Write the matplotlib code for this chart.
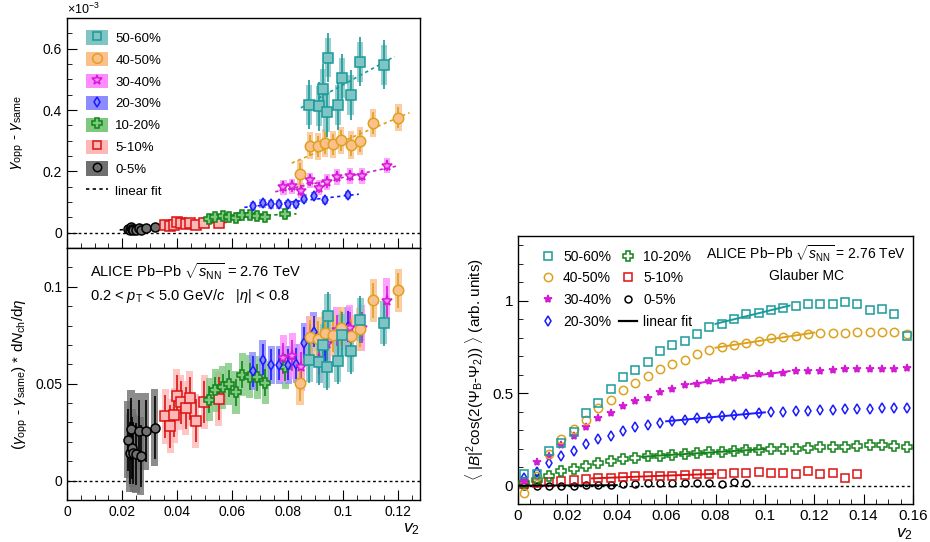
import numpy as np
import matplotlib
matplotlib.use("Agg")
import matplotlib.pyplot as plt
from matplotlib.patches import Rectangle, Patch
from matplotlib.lines import Line2D
from matplotlib.legend_handler import HandlerTuple
from matplotlib.ticker import MultipleLocator

plt.rcParams['font.family'] = ['Liberation Sans', 'DejaVu Sans']
plt.rcParams['mathtext.fontset'] = 'custom'
plt.rcParams['mathtext.rm'] = 'Liberation Sans'
plt.rcParams['mathtext.it'] = 'Liberation Sans:italic'
plt.rcParams['mathtext.bf'] = 'Liberation Sans:bold'

# ---- data ---------------------------------------------------------------
cent = ["0-5%", "5-10%", "10-20%", "20-30%", "30-40%", "40-50%", "50-60%"]

# left panels: v2 of each point, per centrality
v2_c0 = [0.0221, 0.0228, 0.0232, 0.0237, 0.0241, 0.0250, 0.0260, 0.0268, 0.0285, 0.0318]
v2_c1 = [0.0356, 0.0374, 0.0389, 0.0398, 0.0413, 0.0430, 0.0445, 0.0466, 0.0498, 0.0550]
v2_c2 = [0.0516, 0.0538, 0.0565, 0.0587, 0.0613, 0.0635, 0.0662, 0.0690, 0.0719, 0.0792]
v2_c3 = [0.0673, 0.0709, 0.0741, 0.0770, 0.0802, 0.0832, 0.0861, 0.0894, 0.0935, 0.1018]
v2_c4 = [0.0785, 0.0817, 0.0850, 0.0881, 0.0915, 0.0944, 0.0979, 0.1025, 0.1068, 0.1160]
v2_c5 = [0.0845, 0.0882, 0.0910, 0.0934, 0.0964, 0.0994, 0.1029, 0.1062, 0.1111, 0.1202]
v2_c6 = [0.0878, 0.0915, 0.0929, 0.0941, 0.0946, 0.0981, 0.0997, 0.1028, 0.1064, 0.1148]

# gamma_opp - gamma_same (x 1e-3)
g_c0 = [0.013, 0.009, 0.017, 0.011, 0.009, 0.008, 0.016, 0.008, 0.016, 0.017]
g_c1 = [0.026, 0.022, 0.026, 0.034, 0.031, 0.029, 0.033, 0.024, 0.031, 0.033]
g_c2 = [0.044, 0.050, 0.053, 0.052, 0.047, 0.058, 0.056, 0.055, 0.052, 0.061]
g_c3 = [0.087, 0.096, 0.092, 0.092, 0.092, 0.093, 0.111, 0.119, 0.107, 0.123]
g_c4 = [0.148, 0.151, 0.137, 0.171, 0.147, 0.165, 0.182, 0.185, 0.185, 0.219]
g_c5 = [0.192, 0.284, 0.281, 0.292, 0.288, 0.301, 0.285, 0.299, 0.357, 0.375]
g_c6 = [0.417, 0.412, 0.469, 0.393, 0.571, 0.415, 0.504, 0.449, 0.557, 0.547]

# (gamma_opp - gamma_same) * dNch/deta
gn_c0 = [0.0211, 0.0142, 0.0268, 0.0168, 0.0142, 0.0135, 0.0254, 0.0126, 0.0254, 0.0274]
gn_c1 = [0.0331, 0.0280, 0.0336, 0.0437, 0.0403, 0.0374, 0.0424, 0.0309, 0.0405, 0.0422]
gn_c2 = [0.0417, 0.0465, 0.0482, 0.0499, 0.0456, 0.0547, 0.0537, 0.0533, 0.0506, 0.0585]
gn_c3 = [0.0565, 0.0623, 0.0597, 0.0597, 0.0597, 0.0604, 0.0712, 0.0768, 0.0696, 0.0794]
gn_c4 = [0.0630, 0.0643, 0.0584, 0.0728, 0.0626, 0.0703, 0.0775, 0.0788, 0.0788, 0.0925]
gn_c5 = [0.0501, 0.0741, 0.0733, 0.0762, 0.0752, 0.0786, 0.0744, 0.0780, 0.0930, 0.0981]
gn_c6 = [0.0621, 0.0614, 0.0699, 0.0586, 0.0851, 0.0618, 0.0751, 0.0669, 0.0830, 0.0815]

# uncertainties per centrality (stat, syst)
g_stat = [0.004, 0.007, 0.007, 0.010, 0.018, 0.035, 0.080]
g_syst = [0.006, 0.010, 0.012, 0.014, 0.025, 0.045, 0.065]
gn_stat = [0.016, 0.011, 0.007, 0.008, 0.008, 0.009, 0.012]
gn_syst = [0.020, 0.014, 0.011, 0.010, 0.012, 0.011, 0.011]

# right panel: Glauber MC
v2_mc = [0.0025 + 0.005 * i for i in range(32)]
b_c6 = [0.061, 0.061, 0.188, 0.229, 0.292, 0.390, 0.444, 0.523, 0.585, 0.626, 0.668,
        0.726, 0.760, 0.783, 0.821, 0.857, 0.875, 0.900, 0.928, 0.933, 0.949, 0.960,
        0.973, 0.982, 0.982, 0.982, 0.991, 0.984, 0.951, 0.955, 0.928, 0.810]
b_c5 = [-0.042, 0.050, 0.171, 0.251, 0.305, 0.352, 0.417, 0.464, 0.516, 0.556, 0.594,
        0.632, 0.655, 0.679, 0.709, 0.731, 0.747, 0.760, 0.773, 0.782, 0.798, 0.805,
        0.810, 0.818, 0.823, 0.825, 0.825, 0.828, 0.828, 0.828, 0.832, 0.820]
b_c4 = [0.025, 0.126, 0.157, 0.218, 0.267, 0.316, 0.365, 0.394, 0.428, 0.457, 0.473,
        0.504, 0.523, 0.542, 0.549, 0.563, 0.572, 0.583, 0.590, 0.601, 0.605, 0.610,
        0.617, 0.619, 0.621, 0.625, 0.628, 0.628, 0.630, 0.630, 0.630, 0.634]
b_c3 = [0.040, 0.072, 0.121, 0.162, 0.186, 0.224, 0.251, 0.269, 0.294, 0.314, 0.325,
        0.338, 0.350, 0.356, 0.363, 0.368, 0.377, 0.381, 0.386, 0.392, 0.397, 0.399,
        0.401, 0.404, 0.408, 0.410, 0.413, 0.413, 0.415, 0.419, 0.422, 0.419]
b_c2 = [0.013, 0.031, 0.054, 0.079, 0.092, 0.108, 0.121, 0.134, 0.143, 0.150, 0.157,
        0.162, 0.166, 0.170, 0.175, 0.179, 0.184, 0.188, 0.191, 0.193, 0.199, 0.199,
        0.200, 0.204, 0.208, 0.211, 0.211, 0.213, 0.218, 0.218, 0.215, 0.208]
b_c1 = [0.009, 0.013, 0.018, 0.022, 0.029, 0.034, 0.038, 0.043, 0.045, 0.049, 0.051,
        0.051, 0.054, 0.058, 0.060, 0.061, 0.065, 0.067, 0.069, 0.072, 0.070, 0.067,
        0.063, 0.078, 0.060, 0.069, 0.043, 0.060]
b_c0 = [0.000, 0.000, 0.000, 0.000, 0.000, 0.001, 0.002, 0.002, 0.007, 0.009, 0.011,
        0.014, 0.012, 0.011, 0.016, 0.014, 0.009, 0.018, 0.013]
# x ranges of the MC linear fits
mc_fit_lo = [0.0, 0.03, 0.05, 0.06, 0.07, 0.08, 0.08]
mc_fit_hi = [0.04, 0.08, 0.10, 0.10, 0.11, 0.12, 0.11]

v2_all = [v2_c0, v2_c1, v2_c2, v2_c3, v2_c4, v2_c5, v2_c6]
g_all = [g_c0, g_c1, g_c2, g_c3, g_c4, g_c5, g_c6]
gn_all = [gn_c0, gn_c1, gn_c2, gn_c3, gn_c4, gn_c5, gn_c6]
b_all = [b_c0, b_c1, b_c2, b_c3, b_c4, b_c5, b_c6]

# ---- style --------------------------------------------------------------
col = ["#000000", "#dd1111", "#11841a", "#1a1aff", "#d41ad4", "#dca21e", "#1a9a9a"]
box = ["#707070", "#ffb8b8", "#80c880", "#8c8cff", "#ff8cff", "#fcc08c", "#80c4c4"]
mk = ["o", "s", "P", "d", "*", "o", "s"]
ms_left = [6.5, 6.5, 7.5, 5.5, 8, 7.5, 6.5]
ms_right = [5, 5.5, 6.5, 5, 6, 6, 5.5]
mfc_right = ["none", "none", "none", "none", None, "none", "none"]

fig = plt.figure(figsize=(9.3, 5.42), dpi=100)
W, H = 930, 542
ax1 = fig.add_axes([67 / W, 1 - 248 / H, 353 / W, 230 / H])
ax2 = fig.add_axes([67 / W, 1 - 500 / H, 353 / W, 252 / H], sharex=ax1)
ax3 = fig.add_axes([518 / W, 1 - 504 / H, 395 / W, 268 / H])


def root_axes(ax):
    ax.tick_params(which="both", direction="in", top=False, right=False, labelsize=10)
    ax.tick_params(which="major", length=7)
    ax.tick_params(which="minor", length=3.5)
    for s in ax.spines.values():
        s.set_linewidth(1.0)


def draw_left(ax, yall, stat, syst, hw):
    for i in range(7):
        for x, y in zip(v2_all[i], yall[i]):
            ax.add_patch(Rectangle((x - hw, y - syst[i]), 2 * hw, 2 * syst[i],
                                   facecolor=box[i], edgecolor="none", alpha=0.8, zorder=2))
    for i in range(7):
        ax.errorbar(v2_all[i], yall[i], yerr=stat[i], fmt="none", ecolor=col[i],
                    elinewidth=1.2, capsize=0, zorder=3)
        ax.plot(v2_all[i], yall[i], ls="none", marker=mk[i], ms=ms_left[i],
                mfc=box[i], mec=col[i], mew=1.1, zorder=4)


root_axes(ax1)
root_axes(ax2)
root_axes(ax3)

# top left
draw_left(ax1, g_all, g_stat, g_syst, 0.0011)
for i in range(7):
    a, b = np.polyfit(v2_all[i], g_all[i], 1)
    xx = np.array([min(v2_all[i]) - 0.003, max(v2_all[i]) + 0.004])
    ax1.plot(xx, a * xx + b, ls=(0, (2, 2)), color=col[i], lw=1.2, zorder=3)
ax1.axhline(0, color="black", ls=(0, (2, 2)), lw=1.0, zorder=1)
ax1.set_ylim(-0.05, 0.7)
ax1.set_xlim(0, 0.128)
ax1.yaxis.set_major_locator(MultipleLocator(0.2))
ax1.yaxis.set_minor_locator(MultipleLocator(0.05))
ax1.xaxis.set_major_locator(MultipleLocator(0.02))
ax1.xaxis.set_minor_locator(MultipleLocator(0.005))
plt.setp(ax1.get_xticklabels(), visible=False)
ax1.set_yticks([0, 0.2, 0.4, 0.6])
ax1.set_yticklabels(["0", "0.2", "0.4", "0.6"])
ax1.set_ylabel(r"$\gamma_{\rm opp}$ - $\gamma_{\rm same}$", fontsize=11, labelpad=12)
ax1.text(0.0, 1.005, r"$\times10^{-3}$", transform=ax1.transAxes, fontsize=9,
         ha="left", va="bottom")

handles = []
for i in range(6, -1, -1):
    handles.append((Patch(facecolor=box[i], edgecolor="none"),
                    Line2D([], [], ls="none", marker=mk[i], ms=ms_left[i] - 0.5,
                           mfc=box[i], mec=col[i], mew=1.1)))
handles.append(Line2D([], [], color="black", ls=(0, (2, 2)), lw=1.2))
labels = cent[::-1] + ["linear fit"]
ax1.legend(handles, labels, loc="upper left", bbox_to_anchor=(0.04, 0.97),
           frameon=False, fontsize=9.5, handlelength=1.6, handleheight=1.3,
           labelspacing=0.55, handletextpad=0.6, borderaxespad=0,
           handler_map={tuple: HandlerTuple(ndivide=1)})

# bottom left
draw_left(ax2, gn_all, gn_stat, gn_syst, 0.0013)
ax2.axhline(0, color="black", ls=(0, (2, 2)), lw=1.0, zorder=1)
ax2.set_ylim(-0.01, 0.12)
ax2.yaxis.set_major_locator(MultipleLocator(0.05))
ax2.yaxis.set_minor_locator(MultipleLocator(0.01))
ax2.set_yticks([0, 0.05, 0.1])
ax2.set_yticklabels(["0", "0.05", "0.1"])
ax2.set_xticks([0, 0.02, 0.04, 0.06, 0.08, 0.1, 0.12])
ax2.set_xticklabels(["0", "0.02", "0.04", "0.06", "0.08", "0.1", "0.12"])
ax2.set_xlim(0, 0.128)
ax2.set_ylabel(r"($\gamma_{\rm opp}$ - $\gamma_{\rm same}$) * d$N_{\rm ch}$/d$\eta$",
               fontsize=11, labelpad=4)
ax2.text(1.0, -0.085, r"$v_2$", transform=ax2.transAxes, fontsize=12.5,
         ha="right", va="top")
ax2.text(0.065, 0.905, r"ALICE Pb$-$Pb $\sqrt{s_{\rm NN}}$ = 2.76 TeV",
         transform=ax2.transAxes, fontsize=10.5, va="center")
ax2.text(0.065, 0.81, r"0.2 < $p_{\rm T}$ < 5.0 GeV/$c$   |$\eta$| < 0.8",
         transform=ax2.transAxes, fontsize=10.5, va="center")

# right panel
for i in range(7):
    xs = v2_mc[:len(b_all[i])]
    fc = col[i] if mfc_right[i] is None else "none"
    ax3.plot(xs, b_all[i], ls="none", marker=mk[i], ms=ms_right[i], mfc=fc,
             mec=col[i], mew=1.1, zorder=3)
    xs = np.array(xs)
    yb = np.array(b_all[i])
    sel = (xs >= mc_fit_lo[i]) & (xs <= mc_fit_hi[i])
    a, b = np.polyfit(xs[sel], yb[sel], 1)
    xx = np.array([mc_fit_lo[i], mc_fit_hi[i]])
    ax3.plot(xx, a * xx + b, color=col[i], lw=1.4, zorder=4)
ax3.axhline(0, color="black", ls=(0, (2, 2)), lw=1.0, zorder=1)
ax3.set_xlim(0, 0.16)
ax3.set_ylim(-0.1, 1.35)
ax3.xaxis.set_major_locator(MultipleLocator(0.02))
ax3.xaxis.set_minor_locator(MultipleLocator(0.005))
ax3.set_xticks([0, 0.02, 0.04, 0.06, 0.08, 0.1, 0.12, 0.14, 0.16])
ax3.set_xticklabels(["0", "0.02", "0.04", "0.06", "0.08", "0.1", "0.12", "0.14", "0.16"])
ax3.set_yticks([0, 0.5, 1])
ax3.set_yticklabels(["0", "0.5", "1"])
ax3.yaxis.set_minor_locator(MultipleLocator(0.1))
ax3.tick_params(labelsize=11)
ax3.set_ylabel(r"$\langle$ |$B$|$^2$cos(2($\Psi_{\rm B}$-$\Psi_2$)) $\rangle$ (arb. units)",
               fontsize=11, labelpad=4)
ax3.text(1.0, -0.085, r"$v_2$", transform=ax3.transAxes, fontsize=12.5,
         ha="right", va="top")
ax3.text(0.73, 0.935, r"ALICE Pb$-$Pb $\sqrt{s_{\rm NN}}$ = 2.76 TeV",
         transform=ax3.transAxes, fontsize=10, ha="center", va="center")
ax3.text(0.73, 0.85, "Glauber MC", transform=ax3.transAxes, fontsize=10,
         ha="center", va="center")

h3 = []
for i in [6, 5, 4, 3, 2, 1, 0]:
    fc = col[i] if mfc_right[i] is None else "none"
    h3.append(Line2D([], [], ls="none", marker=mk[i], ms=ms_right[i], mfc=fc,
                     mec=col[i], mew=1.1))
h3.append(Line2D([], [], color="black", lw=1.6))
lab3 = ["50-60%", "40-50%", "30-40%", "20-30%", "10-20%", "5-10%", "0-5%", "linear fit"]
ax3.legend(h3, lab3, ncol=2, loc="upper left", bbox_to_anchor=(0.04, 0.97),
           frameon=False, fontsize=10, handlelength=1.3, labelspacing=0.55,
           columnspacing=0.6, handletextpad=0.4, borderaxespad=0)

fig.savefig("out.png", dpi=100)
